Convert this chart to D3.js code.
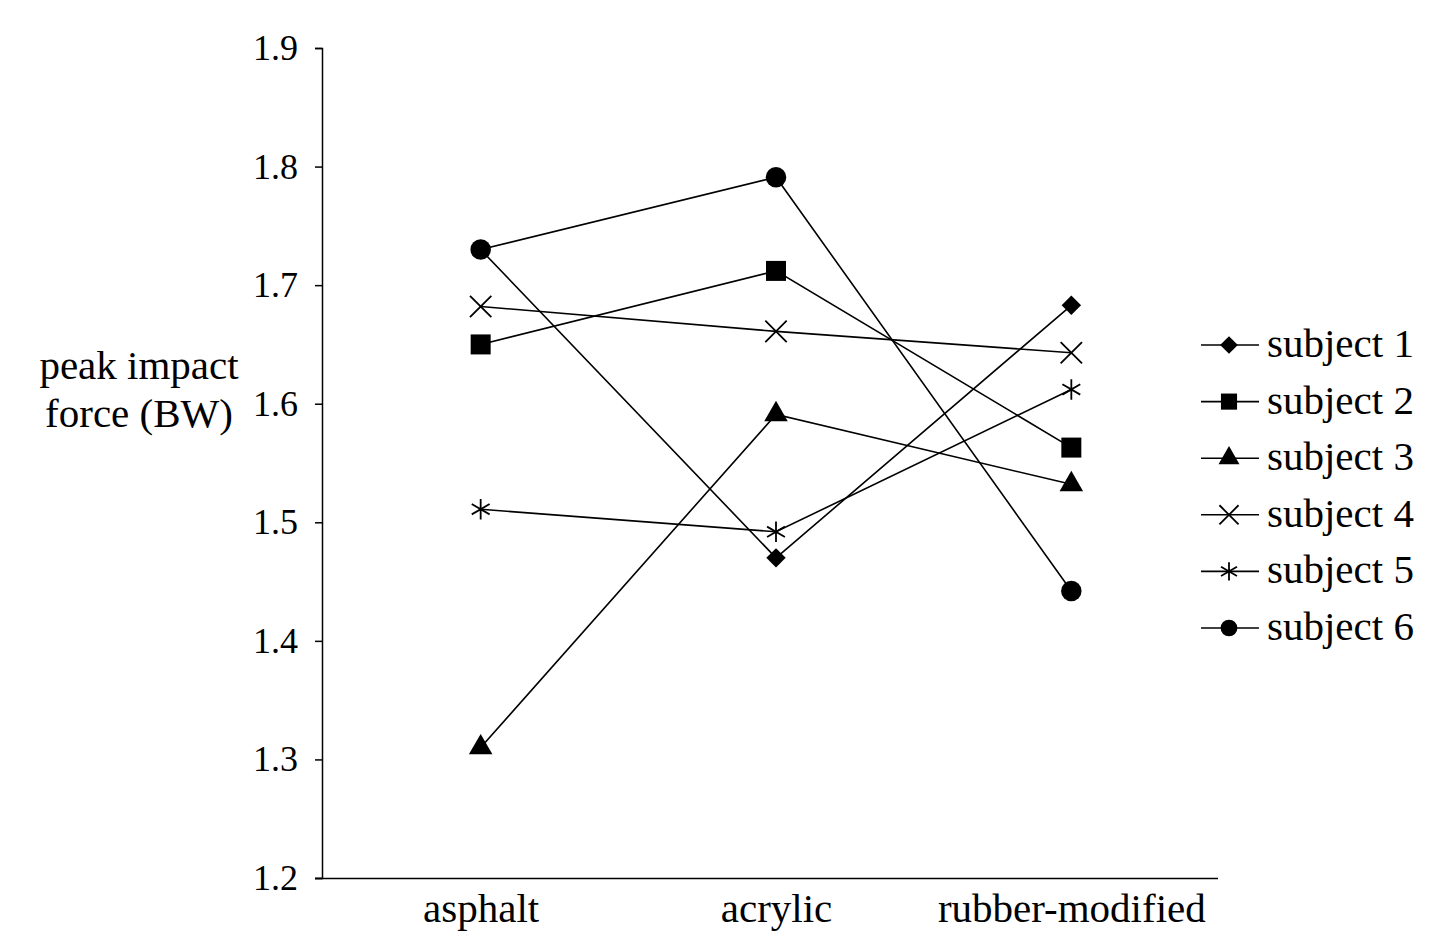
<!DOCTYPE html>
<html>
<head>
<meta charset="utf-8">
<script src="https://cdn.jsdelivr.net/npm/d3@7"></script>
<style>
  body { margin: 0; background: #fff; }
  text { font-family: "Liberation Serif", "DejaVu Serif", serif; fill: #000; }
</style>
</head>
<body>
<div id="chart"></div>
<script>
// data
const surfaces = ["asphalt", "acrylic", "rubber-modified"];
const subjects = ["subject 1", "subject 2", "subject 3", "subject 4", "subject 5", "subject 6"];
const subject1 = [1.73, 1.47, 1.683];
const subject2 = [1.65, 1.712, 1.563];
const subject3 = [1.31, 1.591, 1.532];
const subject4 = [1.682, 1.661, 1.643];
const subject5 = [1.511, 1.492, 1.612];
const subject6 = [1.73, 1.791, 1.442];
const yTicks = [1.2, 1.3, 1.4, 1.5, 1.6, 1.7, 1.8, 1.9];

const width = 1430, height = 934;

const series = [subject1, subject2, subject3, subject4, subject5, subject6]
  .map((v, i) => ({name: subjects[i], values: v}));

// marker per subject: [symbol type, size on chart, size in legend, filled?]
const markers = [
  [d3.symbolDiamond2, 240, 200, true],
  [d3.symbolSquare, 400, 260, true],
  [d3.symbolTriangle, 240, 190, true],
  [d3.symbolTimes, 300, 240, false],
  [d3.symbolAsterisk, 300, 240, false],
  [d3.symbolCircle, 330, 220, true]
];

const svg = d3.select("#chart")
  .append("svg")
  .attr("width", width)
  .attr("height", height);

const y = d3.scaleLinear().domain([1.2, 1.9]).range([878, 48]);
const x = d3.scalePoint().domain(surfaces).range([333, 1219]).padding(0.5);

// y axis
const yAxis = svg.append("g")
  .attr("transform", "translate(322,0)")
  .call(d3.axisLeft(y).tickValues(yTicks).tickFormat(d3.format(".1f")).tickSize(7).tickPadding(17));
yAxis.select(".domain").attr("stroke", "#000").attr("stroke-width", 1.5);
yAxis.selectAll(".tick line").attr("stroke", "#000").attr("stroke-width", 1.5);
yAxis.selectAll(".tick text")
  .style("font-family", "Liberation Serif")
  .attr("font-size", 36)
  .attr("fill", "#000");

// x axis (no ticks)
const xAxis = svg.append("g")
  .attr("transform", "translate(0,878)")
  .call(d3.axisBottom(x).tickSize(0).tickPadding(15));
xAxis.select(".domain").attr("d", "M315,0.5H1218").attr("stroke", "#000").attr("stroke-width", 1.5);
xAxis.selectAll(".tick text")
  .style("font-family", "Liberation Serif")
  .attr("font-size", 41)
  .attr("fill", "#000");

// y title
svg.append("text")
  .attr("x", 139)
  .attr("y", 379)
  .attr("text-anchor", "middle")
  .attr("font-size", 41)
  .selectAll("tspan")
  .data(["peak impact", "force (BW)"])
  .join("tspan")
  .attr("x", 139)
  .attr("dy", (d, i) => i === 0 ? 0 : 48)
  .text(d => d);

// lines
const line = d3.line()
  .x((d, i) => x(surfaces[i]))
  .y(d => y(d));

svg.append("g")
  .selectAll("path")
  .data(series)
  .join("path")
  .attr("d", d => line(d.values))
  .attr("fill", "none")
  .attr("stroke", "#000")
  .attr("stroke-width", 1.6);

// markers
function styleMarker(sel, i) {
  const m = markers[i];
  if (m[3]) sel.attr("fill", "#000").attr("stroke", "none");
  else sel.attr("fill", "none").attr("stroke", "#000").attr("stroke-width", 1.8);
}

series.forEach((s, i) => {
  const sym = d3.symbol().type(markers[i][0]).size(markers[i][1]);
  svg.append("g")
    .selectAll("path")
    .data(s.values)
    .join("path")
    .attr("transform", (d, j) => `translate(${x(surfaces[j])},${y(d)})`)
    .attr("d", sym())
    .call(styleMarker, i);
});

// legend
const legend = svg.append("g").attr("transform", "translate(1201,345)");
const rows = legend.selectAll("g")
  .data(series)
  .join("g")
  .attr("transform", (d, i) => `translate(0,${i * 56.6})`);

rows.append("line")
  .attr("x1", 0).attr("x2", 58)
  .attr("y1", 0).attr("y2", 0)
  .attr("stroke", "#000")
  .attr("stroke-width", 1.6);

rows.each(function (d, i) {
  d3.select(this).append("path")
    .attr("transform", "translate(28,0)")
    .attr("d", d3.symbol().type(markers[i][0]).size(markers[i][2])())
    .call(styleMarker, i);
});

rows.append("text")
  .attr("x", 66)
  .attr("y", 12)
  .attr("font-size", 41)
  .text(d => d.name);
</script>
</body>
</html>
